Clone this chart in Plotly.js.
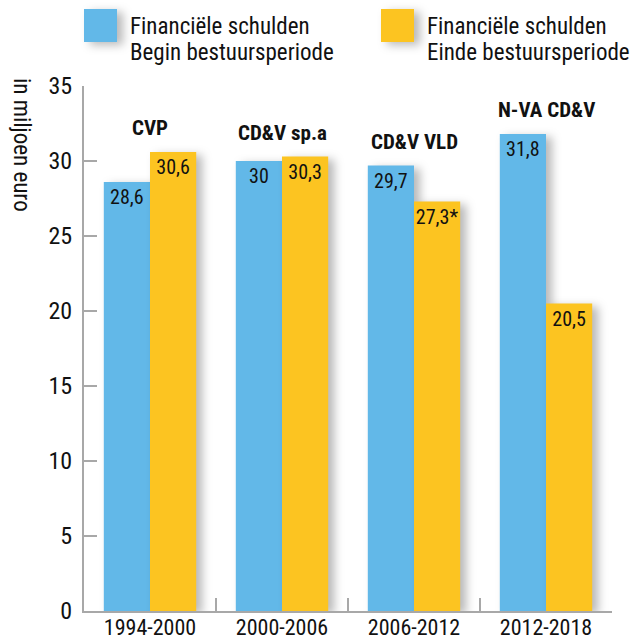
<!DOCTYPE html>
<html>
<head>
<meta charset="utf-8">
<script src="https://cdn.plot.ly/plotly-3.0.1.min.js"></script>
<style>
  html, body { margin: 0; padding: 0; background: #fff; }
  #chart { width: 639px; height: 642px; }
</style>
</head>
<body>
<div id="chart"></div>
<script>
// ---- data ----
const periods = ['1994-2000', '2000-2006', '2006-2012', '2012-2018'];
const coalitions = ['CVP', 'CD&V sp.a', 'CD&V VLD', 'N-VA CD&V'];
const beginDebt = [28.6, 30.0, 29.7, 31.8];
const endDebt = [30.6, 30.3, 27.3, 20.5];
const endNotes = ['', '', '*', ''];
const seriesBegin = ['Financiële schulden', 'Begin bestuursperiode'];
const seriesEnd = ['Financiële schulden', 'Einde bestuursperiode'];
const yTitle = 'in miljoen euro';
const yTicks = [0, 5, 10, 15, 20, 25, 30, 35];

// ---- style ----
const FONT = '"Liberation Sans Narrow", "Roboto Condensed", "DejaVu Sans Condensed", "Liberation Sans", Arial, sans-serif';
const BLUE = '#62b8e8';
const YELLOW = '#fcc421';
const AXIS = '#a8a8a8';

const fmt = v => v.toLocaleString('nl-BE', {minimumFractionDigits: v % 1 ? 1 : 0, maximumFractionDigits: 1});

const traces = [
  {
    type: 'bar', x: periods, y: beginDebt, name: seriesBegin.join(' '),
    marker: {color: BLUE},
    text: beginDebt.map(fmt),
    textposition: 'inside', insidetextanchor: 'end', textangle: 0,
    constraintext: 'none',
    textfont: {family: FONT, size: 20, color: '#111'},
    hoverinfo: 'none', showlegend: false
  },
  {
    type: 'bar', x: periods, y: endDebt, name: seriesEnd.join(' '),
    marker: {color: YELLOW},
    text: endDebt.map((v, i) => fmt(v) + endNotes[i]),
    textposition: 'inside', insidetextanchor: 'end', textangle: 0,
    constraintext: 'none',
    textfont: {family: FONT, size: 20, color: '#111'},
    hoverinfo: 'none', showlegend: false
  }
];

const annotations = coalitions.map((c, i) => ({
  x: periods[i], y: Math.max(beginDebt[i], endDebt[i]),
  xref: 'x', yref: 'y', yanchor: 'bottom', yshift: 10,
  text: '<b>' + c + '</b>', showarrow: false,
  font: {family: FONT, size: 21, color: '#111'}
}));

const W = 639, H = 642, ML = 84, MR = 27, MT = 86, MB = 31;
const pw = W - ML - MR, ph = H - MT - MB;
const px = v => (v - ML) / pw;
const py = v => (H - MB - v) / ph;

annotations.push({
  xref: 'paper', yref: 'paper', x: px(22), y: py(145),
  xanchor: 'center', yanchor: 'middle',
  text: yTitle, textangle: 90, showarrow: false,
  font: {family: FONT, size: 23, color: '#111'}
});

// custom legend (large swatches)
const legendItems = [
  {lines: seriesBegin, color: BLUE, x0: 84},
  {lines: seriesEnd, color: YELLOW, x0: 381}
];
const shapes = [];
legendItems.forEach(it => {
  shapes.push({
    type: 'rect', xref: 'paper', yref: 'paper',
    x0: px(it.x0), x1: px(it.x0 + 33), y0: py(42), y1: py(9),
    fillcolor: it.color, line: {width: 0}
  });
  it.lines.forEach((ln, k) => {
    annotations.push({
      xref: 'paper', yref: 'paper', x: px(it.x0 + 44), y: py(27 + 26 * k),
      xanchor: 'left', yanchor: 'middle', align: 'left',
      text: ln, showarrow: false,
      font: {family: FONT, size: 23, color: '#111'}
    });
  });
});

const layout = {
  width: W, height: H,
  margin: {l: ML, r: MR, t: MT, b: MB, pad: 0},
  paper_bgcolor: '#fff', plot_bgcolor: '#fff',
  barmode: 'group', bargap: 0.3, bargroupgap: 0,
  font: {family: FONT, color: '#111'},
  showlegend: false,
  xaxis: {
    type: 'category', showgrid: false, zeroline: false,
    showline: true, linecolor: AXIS, linewidth: 2,
    ticks: 'inside', tickson: 'boundaries', ticklen: 13, tickcolor: AXIS, tickwidth: 1.5,
    tickfont: {family: FONT, size: 22, color: '#111'},
    ticklabelstandoff: -4,
    fixedrange: true
  },
  yaxis: {
    range: [0, 35], tickvals: yTicks, ticktext: yTicks.map(String),
    showgrid: false, zeroline: false,
    showline: true, linecolor: AXIS, linewidth: 2,
    ticks: 'inside', ticklen: 13, tickcolor: AXIS, tickwidth: 1.5,
    tickfont: {family: FONT, size: 24, color: '#111'},
    ticklabelstandoff: 5,
    fixedrange: true
  },
  annotations: annotations,
  shapes: shapes
};

Plotly.newPlot('chart', traces, layout, {displayModeBar: false, staticPlot: true}).then(gd => {
  // soft drop shadow behind the bars and legend swatches
  const shadow = 'drop-shadow(6px 3px 5px rgba(0,0,0,0.28))';
  gd.querySelectorAll('.bars .point path').forEach(p => { p.style.filter = shadow; });
  gd.querySelectorAll('.shapelayer path').forEach(p => { p.style.filter = shadow; });
});
</script>
</body>
</html>
